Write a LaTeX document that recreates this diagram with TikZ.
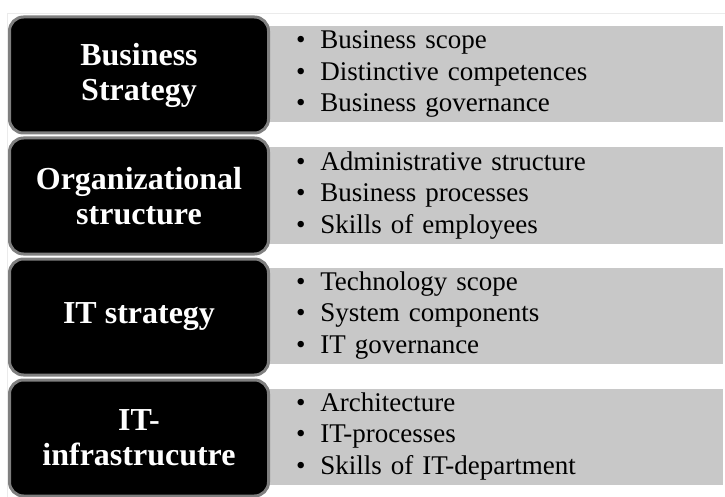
\documentclass[tikz,border=0pt]{standalone}
\usepackage{fontspec}
\setmainfont{Liberation Serif}
\usepackage{tikz}
\usepackage{xcolor}

\definecolor{listgray}{HTML}{C8C8C8}
\definecolor{rimgray}{HTML}{7F7F7F}

\newcommand{\itm}[1]{\textbullet\hspace{0.55em}#1}

\begin{document}
\begin{tikzpicture}[
  x=1pt, y=-1pt,
  layer/.style={ % black box on the left
    draw=rimgray, line width=3pt, fill=black, rounded corners=14pt,
    minimum width=259pt, minimum height=116pt, align=center,
    text=white, font=\bfseries\fontsize{32}{35}\selectfont
  },
  items/.style={ % gray strip with the points
    fill=listgray, minimum width=455pt, minimum height=96pt,
    inner xsep=28pt, text width=399pt, align=left,
    font=\fontsize{27}{31.5}\selectfont
  }
]
\useasboundingbox (0,0) rectangle (725,497);
\draw[black!8] (7,497) -- (7,13) -- (725,13);

% strips first, boxes go over them
\node[items] (BSlist) at (495.5,74) {\itm{Business scope}\\\itm{Distinctive competences}\\\itm{Business governance}};
\node[items] (OSlist) at (495.5,195.5) {\itm{Administrative structure}\\\itm{Business processes}\\\itm{Skills of employees}};
\node[items] (ITSlist) at (495.5,315.5) {\itm{Technology scope}\\\itm{System components}\\\itm{IT governance}};
\node[items] (ITIlist) at (495.5,436.5) {\itm{Architecture}\\\itm{IT-processes}\\\itm{Skills of IT-department}};

\node[layer] (BS) at (139,75) {Business\\Strategy};
\node[layer] (OS) at (139,196) {Organizational\\structure};
\node[layer] (ITS) at (139,317) {IT strategy};
\node[layer] (ITI) at (139,438) {IT-\\infrastrucutre};
\end{tikzpicture}
\end{document}
